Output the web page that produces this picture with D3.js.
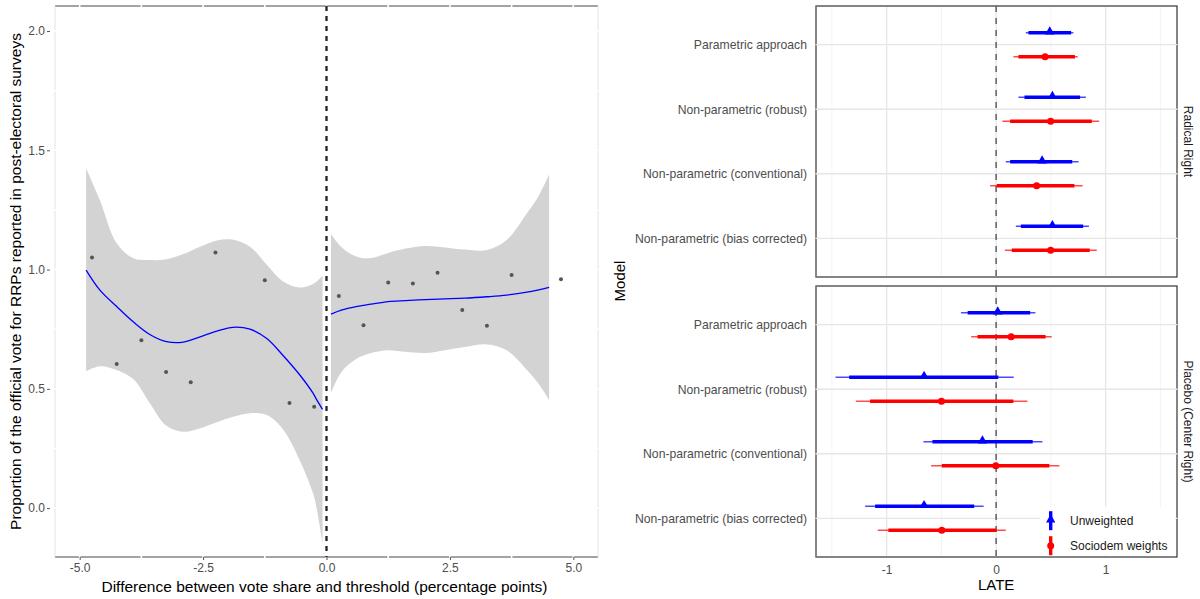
<!DOCTYPE html>
<html><head><meta charset="utf-8">
<script src="https://cdn.jsdelivr.net/npm/d3@7"></script>
<style>body{margin:0;background:#fff}svg{display:block;font-family:"Liberation Sans",Arial,sans-serif}</style>
</head><body><svg id="c" width="1200" height="599"></svg>
<script>
// ---------- Left panel data ----------
const binX = [-4.75,-4.25,-3.75,-3.25,-2.75,-2.25,-1.25,-0.75,-0.25,0.25,0.75,1.25,1.75,2.25,2.75,3.25,3.75,4.75];
const binY = [1.051,0.604,0.704,0.571,0.528,1.072,0.955,0.441,0.425,0.889,0.767,0.946,0.942,0.987,0.831,0.764,0.977,0.959];

const leftFitX = [-4.87,-4.59,-4.25,-3.91,-3.58,-3.24,-2.9,-2.56,-2.22,-1.89,-1.55,-1.21,-0.88,-0.54,-0.27,-0.2,-0.08];
const leftFit  = [0.998,0.914,0.845,0.78,0.728,0.698,0.696,0.718,0.742,0.758,0.75,0.711,0.64,0.558,0.481,0.455,0.414];
const leftLo   = [0.574,0.595,0.579,0.54,0.44,0.345,0.32,0.335,0.36,0.383,0.398,0.39,0.33,0.2,0.06,0.0,-0.148];
const leftHi   = [1.424,1.291,1.11,1.047,1.04,1.043,1.065,1.096,1.122,1.125,1.096,1.02,0.95,0.925,0.94,0.95,0.973];

const rightFitX = [0.09,0.3,0.6,0.9,1.25,1.6,2.0,2.4,2.8,3.25,3.65,4.06,4.3,4.51];
const rightFit  = [0.813,0.83,0.845,0.855,0.866,0.87,0.874,0.877,0.88,0.886,0.893,0.905,0.915,0.925];
const rightLo   = [0.481,0.57,0.625,0.65,0.662,0.655,0.65,0.662,0.675,0.686,0.662,0.579,0.52,0.453];
const rightHi   = [1.149,1.095,1.055,1.048,1.07,1.088,1.099,1.093,1.084,1.082,1.124,1.236,1.31,1.4];

const leftXTicks = [-5,-2.5,0,2.5,5];
const leftYTicks = [0,0.5,1,1.5,2];

// ---------- Right panel data ----------
const models = ["Parametric approach","Non-parametric (robust)","Non-parametric (conventional)","Non-parametric (bias corrected)"];
const facets = ["Radical Right","Placebo (Center Right)"];
const groups = ["Unweighted","Sociodem weights"];
const groupColors = ["#0000ff","#ff0000"];
const rightXTicks = [-1,0,1];

const rrUnwEst  = [0.49,0.514,0.42,0.514];
const rrUnwLo95 = [0.271,0.204,0.088,0.18];
const rrUnwHi95 = [0.706,0.82,0.753,0.848];
const rrUnwLo90 = [0.295,0.259,0.128,0.226];
const rrUnwHi90 = [0.685,0.767,0.695,0.795];

const rrSocEst  = [0.447,0.498,0.37,0.498];
const rrSocLo95 = [0.158,0.058,-0.055,0.08];
const rrSocHi95 = [0.745,0.941,0.79,0.919];
const rrSocLo90 = [0.204,0.128,0.006,0.143];
const rrSocHi90 = [0.72,0.874,0.715,0.855];

const pbUnwEst  = [0.015,-0.658,-0.125,-0.658];
const pbUnwLo95 = [-0.321,-1.467,-0.664,-1.196];
const pbUnwHi95 = [0.359,0.161,0.423,-0.114];
const pbUnwLo90 = [-0.26,-1.342,-0.582,-1.105];
const pbUnwHi90 = [0.311,0.02,0.334,-0.2];

const pbSocEst  = [0.137,-0.499,-0.003,-0.496];
const pbSocLo95 = [-0.228,-1.281,-0.594,-1.081];
const pbSocHi95 = [0.508,0.286,0.578,0.088];
const pbSocLo90 = [-0.17,-1.151,-0.496,-0.984];
const pbSocHi90 = [0.452,0.158,0.486,0.0];

const est = [
  [[rrUnwEst,rrUnwLo95,rrUnwHi95,rrUnwLo90,rrUnwHi90],[rrSocEst,rrSocLo95,rrSocHi95,rrSocLo90,rrSocHi90]],
  [[pbUnwEst,pbUnwLo95,pbUnwHi95,pbUnwLo90,pbUnwHi90],[pbSocEst,pbSocLo95,pbSocHi95,pbSocLo90,pbSocHi90]]
];

const loc = d3.formatLocale({decimal:".",thousands:",",grouping:[3],currency:["",""],minus:"-"});
const svg = d3.select("#c");

// ================= LEFT PANEL =================
const L = {l:55, r:598, t:6, b:557};
const xL = d3.scaleLinear().domain([-5.5,5.5]).range([L.l,L.r]);
const yL = d3.scaleLinear().domain([-0.205,2.105]).range([L.b,L.t]);
const gL = svg.append("g");

gL.append("line").attr("x1",L.l).attr("x2",L.r).attr("y1",L.t).attr("y2",L.t).attr("stroke","#858585").attr("stroke-width",1.3);
gL.append("line").attr("x1",L.l).attr("x2",L.r).attr("y1",L.b).attr("y2",L.b).attr("stroke","#858585").attr("stroke-width",1.3);
gL.append("line").attr("x1",L.l).attr("x2",L.l).attr("y1",L.t).attr("y2",L.b).attr("stroke","#e3e3e3").attr("stroke-width",1);
gL.append("line").attr("x1",L.r).attr("x2",L.r).attr("y1",L.t).attr("y2",L.b).attr("stroke","#e3e3e3").attr("stroke-width",1);
// white grid over border (gaps)
const gxL = d3.range(-5,5.01,1.25), gyL = d3.range(0,2.01,0.25);
gL.selectAll(".vgl").data(gxL).join("line").attr("x1",d=>xL(d)).attr("x2",d=>xL(d)).attr("y1",L.t-1).attr("y2",L.b+1).attr("stroke","#fff").attr("stroke-width",1.6);
gL.selectAll(".hgl").data(gyL).join("line").attr("x1",L.l-1).attr("x2",L.r+1).attr("y1",d=>yL(d)).attr("y2",d=>yL(d)).attr("stroke","#fff").attr("stroke-width",1.6);

const curve = d3.curveCatmullRom.alpha(0.5);
function band(xs,lo,hi){
  const d = xs.map((x,i)=>({x,lo:lo[i],hi:hi[i]}));
  return d3.area().curve(curve).x(p=>xL(p.x)).y0(p=>yL(p.lo)).y1(p=>yL(p.hi))(d);
}
function fit(xs,ys){
  const d = xs.map((x,i)=>({x,y:ys[i]}));
  return d3.line().curve(curve).x(p=>xL(p.x)).y(p=>yL(p.y))(d);
}
gL.append("path").attr("d",band(leftFitX,leftLo,leftHi)).attr("fill","#d3d3d3");
gL.append("path").attr("d",band(rightFitX,rightLo,rightHi)).attr("fill","#d3d3d3");
gL.selectAll(".pt").data(binX).join("circle").attr("cx",d=>xL(d)).attr("cy",(d,i)=>yL(binY[i])).attr("r",2).attr("fill","#555");
gL.append("path").attr("d",fit(leftFitX,leftFit)).attr("fill","none").attr("stroke","#0000ff").attr("stroke-width",1.3);
gL.append("path").attr("d",fit(rightFitX,rightFit)).attr("fill","none").attr("stroke","#0000ff").attr("stroke-width",1.3);
gL.append("line").attr("x1",xL(0)).attr("x2",xL(0)).attr("y1",L.t).attr("y2",L.b).attr("stroke","#222").attr("stroke-width",2.3).attr("stroke-dasharray","5,5");

// axes
const axL = gL.append("g").attr("transform",`translate(0,${L.b})`).call(d3.axisBottom(xL).tickValues(leftXTicks).tickFormat(loc.format(".1f")).tickSize(3).tickPadding(3));
const ayL = gL.append("g").attr("transform",`translate(${L.l-5},0)`).call(d3.axisLeft(yL).tickValues(leftYTicks).tickFormat(loc.format(".1f")).tickSize(3).tickPadding(2));
[axL,ayL].forEach(a=>{a.select(".domain").remove();a.selectAll("line").attr("stroke","#555");a.selectAll("text").attr("fill","#4d4d4d").style("font-size","12px").style("font-family","Liberation Sans");});
gL.append("text").attr("x",(L.l+L.r)/2-2).attr("y",592).attr("text-anchor","middle").style("font-size","15.5px").attr("fill","#000").text("Difference between vote share and threshold (percentage points)");
gL.append("text").attr("transform",`translate(21,${(L.t+L.b)/2}) rotate(-90)`).attr("text-anchor","middle").style("font-size","15.5px").attr("fill","#000").text("Proportion of the official vote for RRPs reported in post-electoral surveys");

// ================= RIGHT PANELS =================
const R = {l:816, r:1177};
const xR = d3.scaleLinear().domain([-1.645,1.652]).range([R.l,R.r]);
const tops = [6,286], PH = 271;
const minorX = [-1.5,-0.5,0.5,1.5];

facets.forEach((f,fi)=>{
  const t = tops[fi], b = t+PH;
  const yP = d3.scalePoint().domain(models).range([t,b]).padding(0.6);
  const g = svg.append("g");
  g.append("rect").attr("x",R.l).attr("y",t).attr("width",R.r-R.l).attr("height",PH).attr("fill","#fff").attr("stroke","#333").attr("stroke-width",1.2);
  g.append("line").attr("x1",R.l).attr("x2",R.l).attr("y1",t).attr("y2",b).attr("stroke","#888").attr("stroke-width",1.2);
  g.selectAll(".mn").data(minorX).join("line").attr("x1",d=>xR(d)).attr("x2",d=>xR(d)).attr("y1",t+1).attr("y2",b-1).attr("stroke","#f0f0f0").attr("stroke-width",0.8);
  g.selectAll(".mj").data(rightXTicks).join("line").attr("x1",d=>xR(d)).attr("x2",d=>xR(d)).attr("y1",t+1).attr("y2",b-1).attr("stroke","#e6e6e6").attr("stroke-width",1.3);
  g.selectAll(".hj").data(models).join("line").attr("x1",R.l-0.5).attr("x2",R.r+0.5).attr("y1",d=>yP(d)).attr("y2",d=>yP(d)).attr("stroke","#e6e6e6").attr("stroke-width",1.3);
  g.append("line").attr("x1",xR(0)).attr("x2",xR(0)).attr("y1",t).attr("y2",b).attr("stroke","#555").attr("stroke-width",1.4).attr("stroke-dasharray","6,6");

  groups.forEach((gr,gi)=>{
    const [e,lo95,hi95,lo90,hi90] = est[fi][gi];
    const col = groupColors[gi], off = gi===0?-12:12;
    const yy = (i)=>yP(models[i])+off;
    g.selectAll(".t95"+gi).data(models).join("line").attr("x1",(d,i)=>xR(lo95[i])).attr("x2",(d,i)=>xR(hi95[i])).attr("y1",(d,i)=>yy(i)).attr("y2",(d,i)=>yy(i)).attr("stroke",col).attr("stroke-width",1.5).attr("stroke-opacity",0.7);
    g.selectAll(".t90"+gi).data(models).join("line").attr("x1",(d,i)=>xR(lo90[i])).attr("x2",(d,i)=>xR(hi90[i])).attr("y1",(d,i)=>yy(i)).attr("y2",(d,i)=>yy(i)).attr("stroke",col).attr("stroke-width",3.4);
    if(gi===0){
      g.selectAll(".sym"+gi).data(models).join("path").attr("d",d3.symbol(d3.symbolTriangle,38)()).attr("transform",(d,i)=>`translate(${xR(e[i])},${yy(i)-1})`).attr("fill",col);
    } else {
      g.selectAll(".sym"+gi).data(models).join("circle").attr("cx",(d,i)=>xR(e[i])).attr("cy",(d,i)=>yy(i)).attr("r",3.5).attr("fill",col);
    }
  });
  // y labels
  g.selectAll(".yl").data(models).join("text").attr("x",R.l-9).attr("y",d=>yP(d)).attr("dy","0.35em").attr("text-anchor","end").style("font-size","12.2px").attr("fill","#4d4d4d").text(d=>d);
  // strip
  g.append("text").attr("transform",`translate(1184,${(t+b)/2}) rotate(90)`).attr("text-anchor","middle").style("font-size","12px").attr("fill","#1a1a1a").text(f);
});

// right x axis
const axR = svg.append("g").attr("transform",`translate(0,${tops[1]+PH})`).call(d3.axisBottom(xR).tickValues(rightXTicks).tickFormat(loc.format("d")).tickSize(0).tickPadding(8));
axR.select(".domain").remove();
axR.selectAll("text").attr("fill","#4d4d4d").style("font-size","12px").style("font-family","Liberation Sans");
svg.append("text").attr("x",xR(0)).attr("y",590).attr("text-anchor","middle").style("font-size","15px").text("LATE");
svg.append("text").attr("transform",`translate(625,281) rotate(-90)`).attr("text-anchor","middle").style("font-size","15px").text("Model");

// legend
const lg = svg.append("g");
lg.append("rect").attr("x",1040).attr("y",507).attr("width",135).attr("height",48).attr("fill","#fff");
groups.forEach((gr,gi)=>{
  const cy = 520.7 + gi*25, cx = 1050.7, col = groupColors[gi];
  lg.append("line").attr("x1",cx).attr("x2",cx).attr("y1",cy-9.5).attr("y2",cy+9.5).attr("stroke",col).attr("stroke-width",3.4);
  if(gi===0) lg.append("path").attr("d",d3.symbol(d3.symbolTriangle,38)()).attr("transform",`translate(${cx},${cy-1})`).attr("fill",col);
  else lg.append("circle").attr("cx",cx).attr("cy",cy).attr("r",3.5).attr("fill",col);
  lg.append("text").attr("x",1070).attr("y",cy).attr("dy","0.35em").style("font-size","12px").attr("fill","#1a1a1a").text(gr);
});
</script></body></html>
